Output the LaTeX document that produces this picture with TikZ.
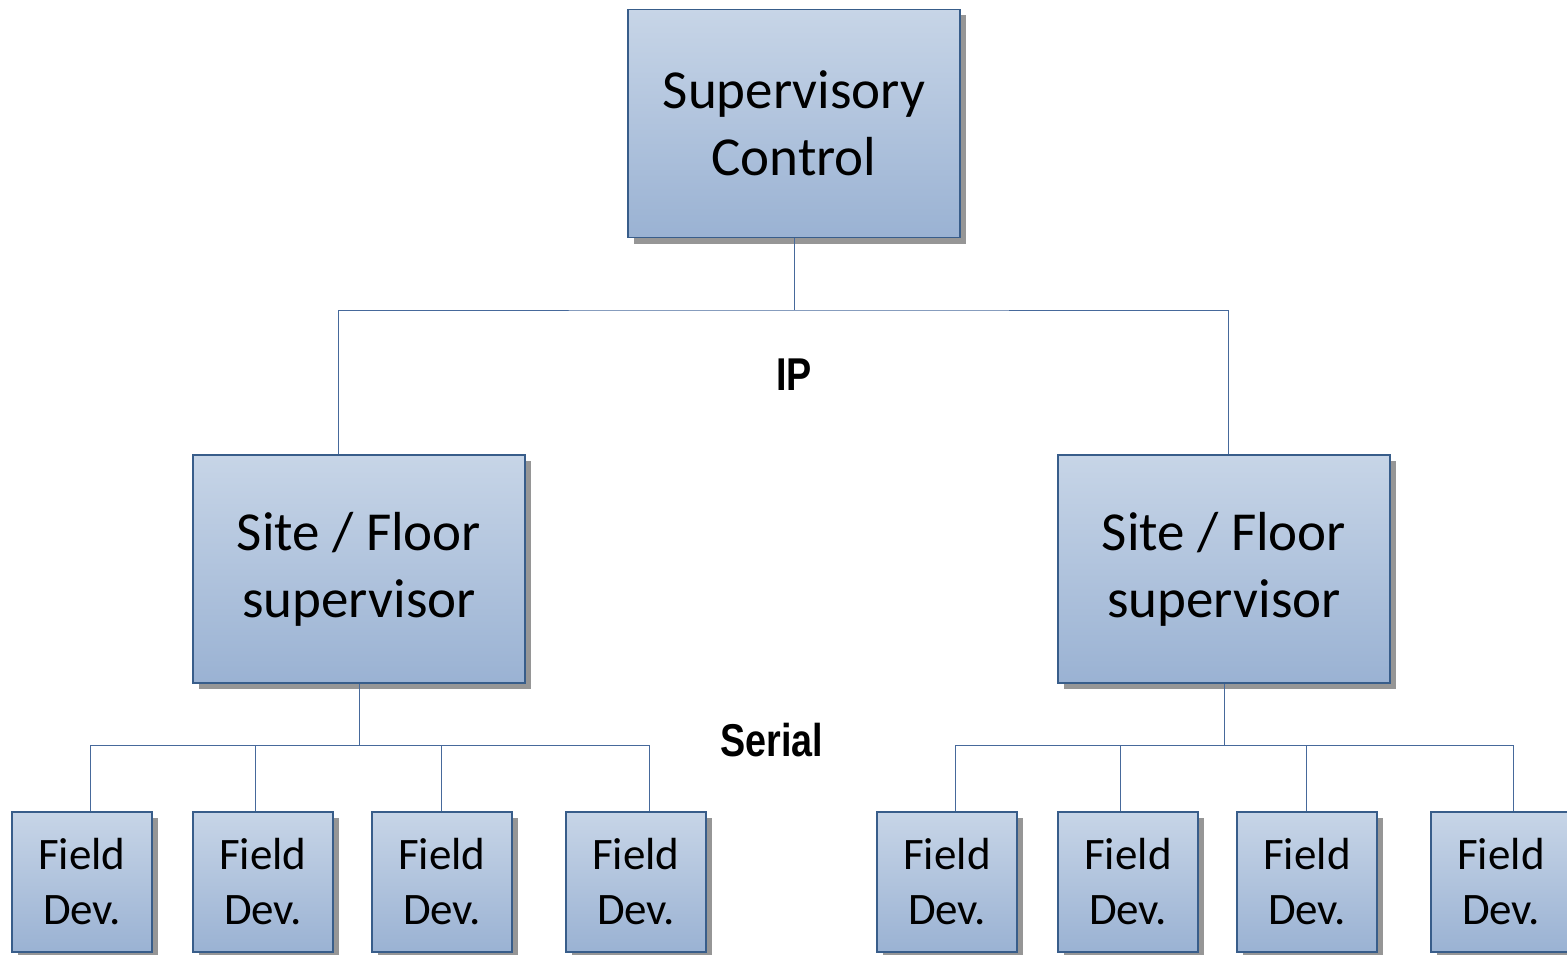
\documentclass[tikz,border=0pt]{standalone}
\usepackage{fontspec}
\setmainfont{Carlito}
\newfontfamily\narrowfont[FakeStretch=0.82]{Liberation Sans}
\usetikzlibrary{shadows}
\definecolor{boxtop}{RGB}{199,213,231}
\definecolor{boxbottom}{RGB}{154,178,211}
\definecolor{boxline}{RGB}{56,93,138}
\definecolor{wire}{RGB}{70,105,155}
\definecolor{shade}{RGB}{150,150,150}

\tikzset{
  unit/.style={draw=boxline, line width=1.2pt, top color=boxtop, bottom color=boxbottom, align=center, inner sep=0pt,
    drop shadow={shadow xshift=6pt, shadow yshift=-6pt, fill=shade, opacity=1}},
  bigbox/.style={unit, minimum width=332pt, minimum height=228pt, font=\fontsize{55}{67}\selectfont},
  devbox/.style={unit, minimum width=140pt, minimum height=140pt, font=\fontsize{45}{55}\selectfont},
  link/.style={draw=wire, line width=1pt},
  buslabel/.style={inner sep=0pt, font=\narrowfont\bfseries\fontsize{46}{50}\selectfont}
}

\begin{document}
\begin{tikzpicture}[x=1pt, y=-1pt]
\useasboundingbox (0,0) rectangle (1567,955);

% Top level
  \node[bigbox] (sc) at (794,123.5) {Supervisory\\Control};

% Site / floor level
  \node[bigbox] (siteL) at (359,569) {Site / Floor\\supervisor};
  \node[bigbox] (siteR) at (1224,569) {Site / Floor\\supervisor};

% Field devices, left
  \node[devbox] (fL1) at (82,882) {Field\\Dev.};
  \node[devbox] (fL2) at (263,882) {Field\\Dev.};
  \node[devbox] (fL3) at (442,882) {Field\\Dev.};
  \node[devbox] (fL4) at (636,882) {Field\\Dev.};

% Field devices, right
  \node[devbox] (fR1) at (947,882) {Field\\Dev.};
  \node[devbox] (fR2) at (1128,882) {Field\\Dev.};
  \node[devbox] (fR3) at (1307,882) {Field\\Dev.};
  \node[devbox] (fR4) at (1501,882) {Field\\Dev.};

% IP bus
  \coordinate (ipjoin) at (794,310);
  \draw[link] (sc.south) -- (ipjoin);
  \draw[link] ([xshift=-21pt]siteL.north) |- (ipjoin) -| ([xshift=4pt]siteR.north);
  \node[buslabel] (ip) at (794,375) {IP};

% Serial buses
  \coordinate (serL) at (359,745);
  \coordinate (serR) at (1224,745);
  \draw[link] (siteL.south) -- (serL);
  \draw[link] ([xshift=8pt]fL1.north) |- (serL);
  \draw[link] ([xshift=-8pt]fL2.north) |- (serL);
  \draw[link] ([xshift=-1pt]fL3.north) |- (serL);
  \draw[link] ([xshift=13pt]fL4.north) |- (serL);
  \draw[link] (siteR.south) -- (serR);
  \draw[link] ([xshift=8pt]fR1.north) |- (serR);
  \draw[link] ([xshift=-8pt]fR2.north) |- (serR);
  \draw[link] ([xshift=-1pt]fR3.north) |- (serR);
  \draw[link] ([xshift=12pt]fR4.north) |- (serR);
  \node[buslabel] (serial) at (772,740) {Serial};

\end{tikzpicture}
\end{document}
